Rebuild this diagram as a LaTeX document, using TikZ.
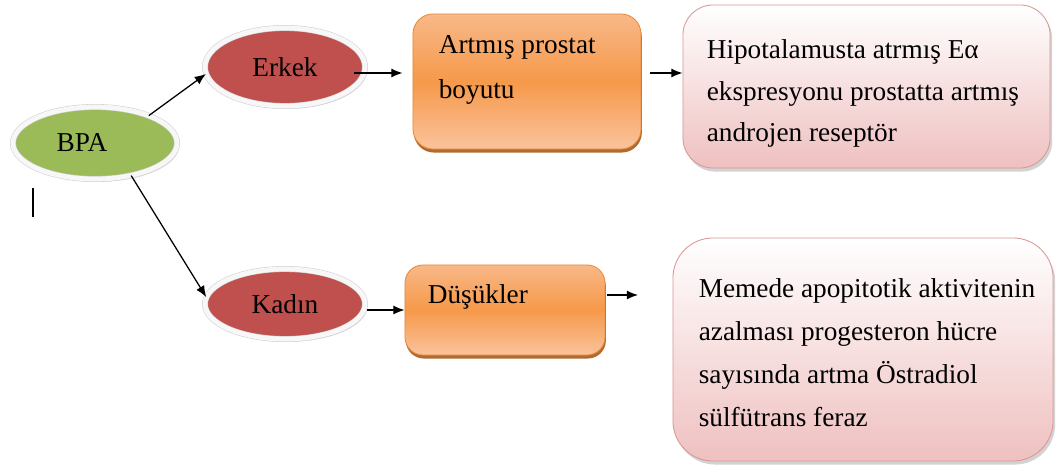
\documentclass[tikz,border=0pt]{standalone}
\usepackage{fontspec}
\setmainfont{Liberation Serif}
\usetikzlibrary{shapes.geometric,shadows,arrows.meta}

\definecolor{bpagreen}{HTML}{9BBB59}
\definecolor{ovalred}{HTML}{C0504D}
\definecolor{orangetop}{HTML}{F8B888}
\definecolor{orangemid}{HTML}{F6994A}
\definecolor{orangebot}{HTML}{FAC39C}
\definecolor{orangeline}{HTML}{E88A3A}
\definecolor{orangeshadow}{HTML}{A85A18}
\definecolor{pinkbot}{HTML}{EFC0C0}
\definecolor{pinkline}{HTML}{D99694}

\begin{document}
\begin{tikzpicture}[x=0.025cm,y=-0.025cm,
                every node/.style={font=\fontsize{19.4}{30}\selectfont},
                oval/.style={ellipse, draw=black!18, line width=0.4pt, double=white!97!black, double distance=3.4pt,
                        drop shadow={shadow xshift=1.5pt, shadow yshift=-2pt, opacity=0.3}},
                orangebox/.style={rectangle, rounded corners=0.5cm, draw=orangeline, line width=0.6pt,
                        top color=orangetop, bottom color=orangebot, middle color=orangemid,
                        drop shadow={shadow xshift=0.6pt, shadow yshift=-2.5pt, fill=orangeshadow, opacity=0.9}},
                pinkbox/.style={rectangle, draw=pinkline, line width=0.6pt, top color=white, bottom color=pinkbot,
                        drop shadow={shadow xshift=1.5pt, shadow yshift=-2.5pt, opacity=0.35}},
                boxtext/.style={anchor=north west, inner sep=0pt, align=left},
                arr/.style={-{Latex[length=8pt,width=6.5pt]}, line width=0.9pt}]
                \useasboundingbox (0,0) rectangle (1058,469);
                % ovals
                \node[oval, fill=bpagreen, minimum width=4.1cm, minimum height=1.8cm] (bpa) at (95,143) {};
                \node (bpatext) at (82,143) {BPA};
                \node[oval, fill=ovalred, minimum width=4cm, minimum height=1.95cm] (erkek) at (285,67) {Erkek};
                \node[oval, fill=ovalred, minimum width=4cm, minimum height=1.75cm] (kadin) at (285,304) {Kadın};
                % boxes
                \node[orangebox, minimum width=5.7cm, minimum height=3.375cm] (prostat) at (527,81.5) {};
                \node[boxtext, font=\fontsize{19.4}{32}\selectfont] (prostattext) at ([shift={(26,22)}]prostat.north west) {Artmış prostat\\boyutu};
                \node[pinkbox, rounded corners=0.75cm, minimum width=9.175cm, minimum height=4.075cm] (hipo) at (866.5,86.5) {};
                \node[boxtext, font=\fontsize{19.4}{29.5}\selectfont] (hipotext) at ([shift={(24,35)}]hipo.north west) {Hipotalamusta atrmış Eα\\ekspresyonu prostatta artmış\\androjen reseptör};
                \node[orangebox, rounded corners=0.45cm, minimum width=5cm, minimum height=2.25cm] (dusuk) at (505,310) {};
                \node[boxtext] (dusuktext) at ([shift={(23,20)}]dusuk.north west) {Düşükler};
                \node[pinkbox, rounded corners=1cm, minimum width=9.5cm, minimum height=5.575cm] (meme) at (863,349.5) {};
                \node[boxtext, font=\fontsize{19.4}{30.5}\selectfont] (memetext) at ([shift={(26,41)}]meme.north west) {Memede apopitotik aktivitenin\\azalması progesteron hücre\\sayısında artma Östradiol\\sülfütrans feraz};
                % arrows
                \draw[arr] (bpa.27) -- (erkek.185);
                \draw[arr] (bpa.-42) -- (kadin.175);
                \coordinate (e1) at ([shift={(-11,6)}]erkek.east);
                \draw[arr, shorten >=0.25cm] (e1) -- (e1 -| prostat.west);
                \coordinate (p1) at ([shift={(9,-8.5)}]prostat.east);
                \draw[arr] (p1) -- (p1 -| hipo.west);
                \coordinate (k1) at ([shift={(2,6)}]kadin.east);
                \draw[arr] (k1) -- (k1 -| dusuk.west);
                \coordinate (d1) at ([shift={(2,-15)}]dusuk.east);
                \coordinate (dusukend) at (638,295);
                \draw[arr] (d1) -- (dusukend);
                % stray mark
                \draw[line width=1.3pt] (33,188) -- (33,217);
\end{tikzpicture}
\end{document}
